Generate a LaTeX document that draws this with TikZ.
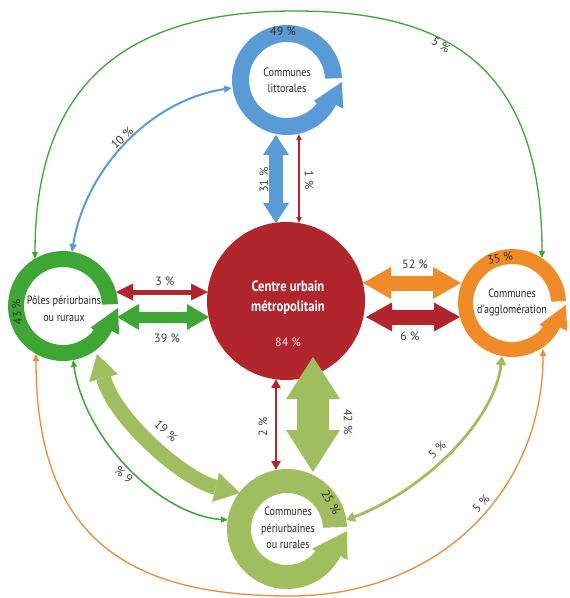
\documentclass[tikz,border=0pt]{standalone}
\usepackage{fontspec}
\setmainfont{PT Sans}
\newfontfamily\condfont[FakeStretch=0.84]{PT Sans}
\usetikzlibrary{arrows.meta}
\definecolor{cred}{RGB}{176,38,44}
\definecolor{cblue}{RGB}{91,155,213}
\definecolor{cgreen}{RGB}{62,166,52}
\definecolor{corange}{RGB}{240,140,40}
\definecolor{corline}{RGB}{232,140,60}
\definecolor{clight}{RGB}{160,190,95}
\definecolor{ctext}{RGB}{60,60,60}
% #1 colour, #2 centre, #3 outer r, #4 inner r, #5 outer wing r, #6 inner wing r
\newcommand\ringarrow[6]{%
  \fill[#1] ([shift={(#2)}]2:#3) arc[start angle=2,end angle=333,radius=#3]
    -- ([shift={(#2)}]333:#5) -- ([shift={(#2)}]358:#3)
    -- ([shift={(#2)}]322:#6) -- ([shift={(#2)}]322:#4)
    arc[start angle=322,end angle=2,radius=#4] -- cycle;}
\begin{document}
\begin{tikzpicture}[x=1pt,y=1pt,
  lbl/.style={font=\fontsize{12}{14}\selectfont,text=ctext,inner sep=0pt},
  rtxt/.style={font=\condfont\fontsize{12}{16.5}\selectfont,align=center,text=black!85,inner sep=0pt},
  pct/.style={font=\fontsize{12}{14}\selectfont,text=black!80,inner sep=0pt},
  fat/.style n args={3}{line width=#1pt,arrows={Triangle[width=#2pt,length=#3pt,line width=0pt]-Triangle[width=#2pt,length=#3pt,line width=0pt]}},
  thn/.style n args={3}{line width=#1pt,arrows={Triangle[width=#2pt,length=#3pt]-Triangle[width=#2pt,length=#3pt]}}]

\fill[white] (0,0) rectangle (570,-598);
\useasboundingbox (0,0) rectangle (570,-598);

% ring centres
\coordinate (litc) at (287,-80);
\coordinate (polc) at (63,-306);
\coordinate (aggc) at (512,-303);
\coordinate (perc) at (287,-529);

% connector ends
\coordinate (gTopL) at (35,-259);
\coordinate (gTopM) at (295,-11);
\coordinate (gTopR) at (542,-258);
\coordinate (oBotL) at (36,-354);
\coordinate (oBotM) at (290,-596);
\coordinate (oBotR) at (543,-349);
\coordinate (bL) at (72,-252);
\coordinate (bR) at (232,-88);
\coordinate (g6a) at (73,-360);
\coordinate (g6b) at (228,-520);
\coordinate (l5a) at (502,-356);
\coordinate (l5b) at (346,-520);
\coordinate (b31a) at (276,-135);
\coordinate (b31b) at (276,-223);
\coordinate (r1a) at (299,-134);
\coordinate (r1b) at (299,-223);
\coordinate (g39a) at (117,-317);
\coordinate (g39b) at (209,-317);
\coordinate (r3a) at (116,-292);
\coordinate (r3b) at (208,-292);
\coordinate (o52a) at (363,-283);
\coordinate (o52b) at (461,-283);
\coordinate (r6a) at (366,-317);
\coordinate (r6b) at (460,-317);
\coordinate (l42a) at (313,-357);
\coordinate (l42b) at (313,-472);
\coordinate (r2a) at (276,-379);
\coordinate (r2b) at (276,-470);
\coordinate (l19a) at (97,-354);
\coordinate (l19b) at (240,-493);

% thin curved flows
\draw[thn={1.3}{6}{7}, cgreen] (gTopL) .. controls (35,-80) and (130,-11) .. (gTopM)
   .. controls (440,-11) and (542,-60) .. (gTopR);
\draw[thn={1.3}{6}{7}, corline] (oBotL) .. controls (36,-540) and (130,-596) .. (oBotM)
   .. controls (440,-596) and (543,-490) .. (oBotR);
\draw[thn={2}{7}{8}, cblue] (bL) .. controls (85,-170) and (150,-100) .. (bR);
\draw[thn={1.5}{6}{7}, cgreen] (g6a) .. controls (85,-440) and (160,-515) .. (g6b);
\draw[thn={2.8}{10}{9}, clight] (l5a) .. controls (495,-420) and (425,-490) .. (l5b);

% central circle
\node[circle,fill=cred,minimum size=158pt,inner sep=0pt] (cum) at (286,-301) {};

% thick flows
\draw[fat={14}{26}{20}, cblue] (b31a) -- (b31b);
\draw[thn={1.6}{5}{6}, cred] (r1a) -- (r1b);
\draw[fat={11}{26}{22}, cgreen] (g39a) -- (g39b);
\draw[fat={5}{17}{17}, cred] (r3a) -- (r3b);
\draw[fat={15}{32}{28}, corange] (o52a) -- (o52b);
\draw[fat={15}{29}{26}, cred] (r6a) -- (r6b);
\draw[fat={32}{54}{42}, clight] (l42a) -- (l42b);
\draw[thn={2.6}{9}{9}, cred] (r2a) -- (r2b);
\draw[fat={15}{30}{25}, clight] (l19a) .. controls (115,-420) and (185,-480) .. (l19b);

% rings
\ringarrow{cblue}{litc}{55}{38}{63}{34}
\ringarrow{cgreen}{polc}{55}{39}{63}{35}
\ringarrow{corange}{aggc}{54}{39}{62}{35}
\ringarrow{clight}{perc}{60}{36}{68}{32}

% texts
\node[rtxt] (lit) at (287,-80.5) {Communes\\littorales};
\node[rtxt] (pol) at (64,-308.5) {Pôles périurbains\\ou ruraux};
\node[rtxt] (agg) at (512,-302.5) {Communes\\d'agglomération};
\node[rtxt] (per) at (288,-528) {Communes\\périurbaines\\ou rurales};
\node[font=\condfont\bfseries\fontsize{15}{20}\selectfont,text=white,align=center,inner sep=0pt] (cumt) at (288,-298) {Centre urbain\\métropolitain};
\node[lbl,text=white!85!cred] (cump) at (288,-342) {84 \%};

\node[pct] (p49) at (283,-31) {49 \%};
\node[pct,rotate=95] (p43) at (17,-312) {43 \%};
\node[pct,rotate=12] (p35) at (500,-258) {35 \%};
\node[pct,rotate=-60] (p25) at (331,-502) {25 \%};

\node[lbl,rotate=90] (t31) at (264,-180) {31 \%};
\node[lbl,rotate=-90] (t1) at (309,-180) {1 \%};
\node[lbl] (t3) at (165,-281) {3 \%};
\node[lbl] (t39) at (167,-338) {39 \%};
\node[lbl] (t52) at (415,-264) {52 \%};
\node[lbl] (t6) at (410,-336) {6 \%};
\node[lbl,rotate=90] (t2) at (263,-427) {2 \%};
\node[lbl,rotate=-90] (t42) at (348,-422) {42 \%};
\node[lbl,rotate=-42] (t19) at (166,-431) {19 \%};
\node[lbl,rotate=43] (t10) at (122,-138) {10 \%};
\node[lbl,rotate=140] (t6b) at (124,-475) {6 \%};
\node[lbl,rotate=42] (t5a) at (437,-450) {5 \%};
\node[lbl,rotate=-33] (t5b) at (441,-45) {5 \%};
\node[lbl,rotate=47] (t5c) at (481,-504) {5 \%};
\end{tikzpicture}
\end{document}
